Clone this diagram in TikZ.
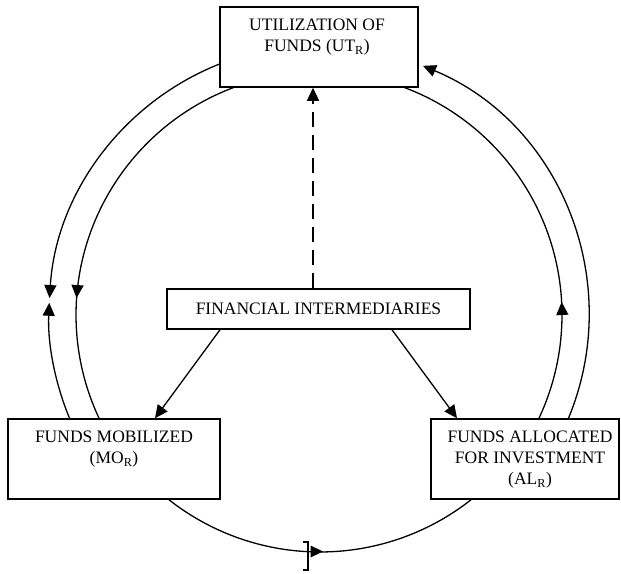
\documentclass[tikz,border=0pt]{standalone}
\usepackage{fontspec}
\setmainfont{Liberation Serif}
\usetikzlibrary{arrows.meta,decorations.markings,calc}
\begin{document}
\begin{tikzpicture}[x=1pt,y=-1pt,
  box/.style={draw, line width=1.5pt, inner sep=0pt},
  lbl/.style={font=\fontsize{17.5}{21}\selectfont, align=center, inner sep=0pt},
  conn/.style={line width=1.3pt},
  tri/.style={-{Triangle[length=13pt,width=12pt]}},
  midarrow/.style={postaction={decorate, decoration={markings,
      mark=at position #1 with {\arrow{Triangle[length=13pt,width=12pt]}}}}}]
\useasboundingbox (0,0) rectangle (621,573);

% boxes
\node[box, minimum width=198pt, minimum height=80pt] (ut) at (319,47) {};
\node[lbl, anchor=north] (utt) at (317,19) {UTILIZATION OF\\FUNDS (UT\textsubscript{R})};
\node[box, lbl, minimum width=303pt, minimum height=40pt] (fi) at (318.5,309) {FINANCIAL INTERMEDIARIES};
\node[box, minimum width=212pt, minimum height=80pt] (mo) at (114,459) {};
\node[lbl, anchor=north] (mot) at (114,431) {FUNDS MOBILIZED\\(MO\textsubscript{R})};
\node[box, minimum width=188pt, minimum height=80pt] (al) at (525,459) {};
\node[lbl, anchor=north] (alt) at (530,431) {FUNDS ALLOCATED\\FOR INVESTMENT\\(AL\textsubscript{R})};

% circle centres
\coordinate (C) at (319,315);
\coordinate (B) at (320,307.5);

% outer left: two arcs meeting
\draw[conn, tri] ($(C)+(157.35:270)$) arc[start angle=157.35, end angle=182.6, radius=270];
\draw[conn, tri] ($(C)+(248.5:270)$) arc[start angle=248.5, end angle=183.6, radius=270];
% inner left
\draw[conn, midarrow=0.6915] ($(C)+(249.77:243)$) arc[start angle=249.77, end angle=154.66, radius=243];
% inner right
\draw[conn, midarrow=0.2987] ($(C)+(25.34:243)$) arc[start angle=25.34, end angle=-69.77, radius=243];
% outer right
\draw[conn, tri] ($(C)+(22.65:270)$) arc[start angle=22.65, end angle=-67.35, radius=270];
% bottom arc
\draw[conn] ($(B)+(128.4:244.5)$) arc[start angle=128.4, end angle=51.6, radius=244.5];
\fill (323,551.5) -- (310.5,545.5) -- (310.5,557.5) -- cycle;
\draw[line width=2.8pt] (303,542) -- (308,542) -- (308,570) -- (303,570);

% centre arrows
\draw[conn, dash pattern=on 15pt off 8pt, tri] ([xshift=-5.5pt]fi.north) -- ([xshift=-6pt]ut.south);
\draw[conn, tri] ([xshift=-98.5pt]fi.south) -- ([xshift=41pt]mo.north);
\draw[conn, tri] ([xshift=73.5pt]fi.south) -- ([xshift=-68pt]al.north);
\end{tikzpicture}
\end{document}
